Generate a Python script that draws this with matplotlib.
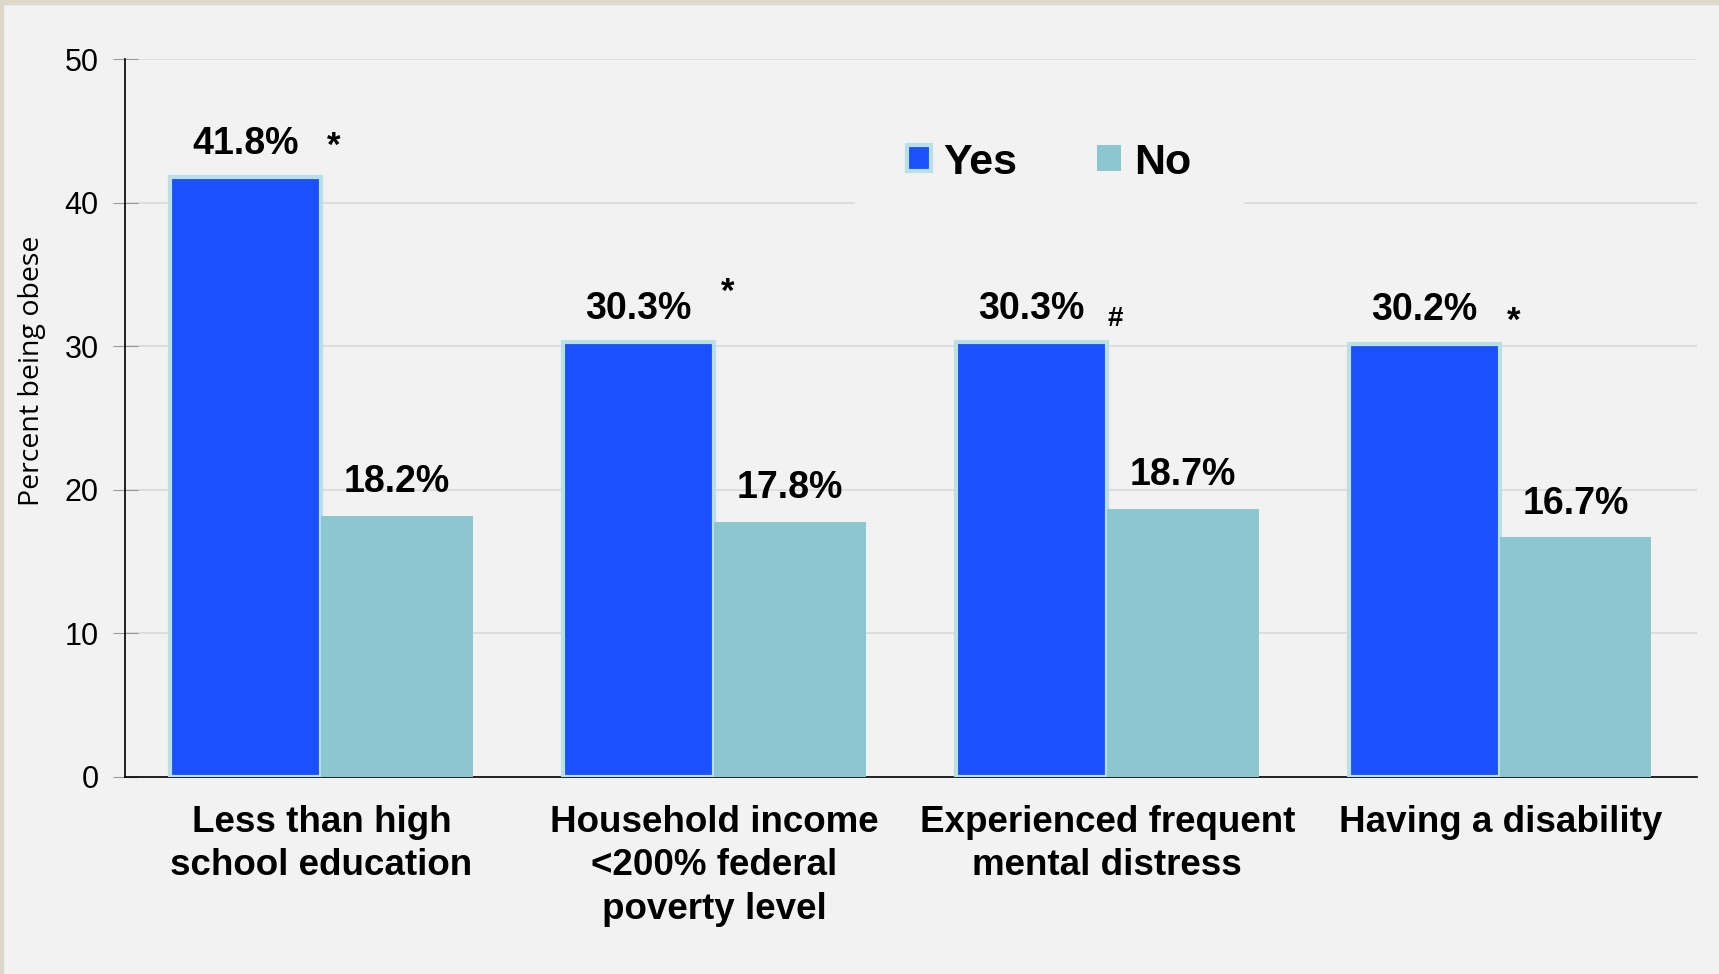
import matplotlib.pyplot as plt
import numpy as np
from matplotlib.patches import Rectangle

# data
categories = ['Less than high\nschool education',
              'Household income\n<200% federal\npoverty level',
              'Experienced frequent\nmental distress',
              'Having a disability']
yes_values = [41.8, 30.3, 30.3, 30.2]
no_values = [18.2, 17.8, 18.7, 16.7]
sig_marks = ['*', '*', '#', '*']
# offsets (points) of the significance marks from the right/top of the Yes bar
sig_offsets = [(4, 22), (5, 36), (0, 17), (5, 16)]

plt.rcParams['font.family'] = ['Liberation Sans', 'DejaVu Sans']

bg = '#f2f2f2'
fig = plt.figure(figsize=(17.19, 9.74), dpi=100, facecolor=bg)
ax = fig.add_axes([0.0727, 0.2023, 0.9143, 0.7367])
ax.set_facecolor(bg)

# beige frame strips along top and left edge
fig.patches.append(Rectangle((0, 0.996), 1, 0.004, transform=fig.transFigure,
                             color='#ddd8cc', zorder=0))
fig.patches.append(Rectangle((0, 0), 0.002, 1, transform=fig.transFigure,
                             color='#ddd8cc', zorder=0))

x = np.arange(len(categories))
w = 0.385
bars_yes = ax.bar(x - w / 2, yes_values, w, color='#1b50ff', edgecolor='#b9e0e4',
                  linewidth=3, label='Yes', zorder=3)
bars_no = ax.bar(x + w / 2, no_values, w, color='#8cc6cf', edgecolor='#8cc6cf',
                 linewidth=0, label='No', zorder=3)

for b, v in zip(bars_yes, yes_values):
    ax.annotate('%.1f%%' % v, (b.get_x() + b.get_width() / 2, v),
                xytext=(0, 11), textcoords='offset points', ha='center', va='bottom',
                fontsize=27, fontweight='bold', zorder=4)
for b, v in zip(bars_no, no_values):
    ax.annotate('%.1f%%' % v, (b.get_x() + b.get_width() / 2, v),
                xytext=(0, 11), textcoords='offset points', ha='center', va='bottom',
                fontsize=27, fontweight='bold', zorder=4)
for b, v, m, off in zip(bars_yes, yes_values, sig_marks, sig_offsets):
    ax.annotate(m, (b.get_x() + b.get_width(), v), xytext=off,
                textcoords='offset points', ha='left', va='center',
                fontsize=25 if m == '*' else 20, fontweight='bold', zorder=4)

ax.set_xlim(-0.5, len(categories) - 0.5)
ax.set_ylim(0, 50)
ax.set_yticks([0, 10, 20, 30, 40, 50])
ax.yaxis.grid(True, color='#d9d9d9', linewidth=1.2, zorder=0)
ax.set_axisbelow(True)

ax.set_xticks(x)
ax.set_xticklabels(categories, fontsize=26.5, fontweight='bold', linespacing=1.32)
ax.tick_params(axis='x', length=0, pad=20)
ax.tick_params(axis='y', labelsize=22, direction='inout', length=18,
               color='#999999', pad=10)

for s in ['top', 'right']:
    ax.spines[s].set_visible(False)
ax.spines['left'].set_color('black')
ax.spines['bottom'].set_color('black')
ax.spines['left'].set_linewidth(1.2)
ax.spines['bottom'].set_linewidth(1.2)

ax.set_ylabel('Percent being obese', fontsize=20.5, family='Open Sans')
ax.yaxis.set_label_coords(-0.05, 0.566)

leg = ax.legend(loc='upper center', bbox_to_anchor=(0.588, 0.956), ncol=2,
                frameon=True, facecolor=bg, edgecolor=bg, framealpha=1,
                prop={'weight': 'bold', 'size': 31}, handlelength=0.55,
                handleheight=0.55, handletextpad=0.3, columnspacing=1.85,
                borderpad=1.2, borderaxespad=0)
leg.set_zorder(5)

fig.savefig('out.png', dpi=100, facecolor=bg)
